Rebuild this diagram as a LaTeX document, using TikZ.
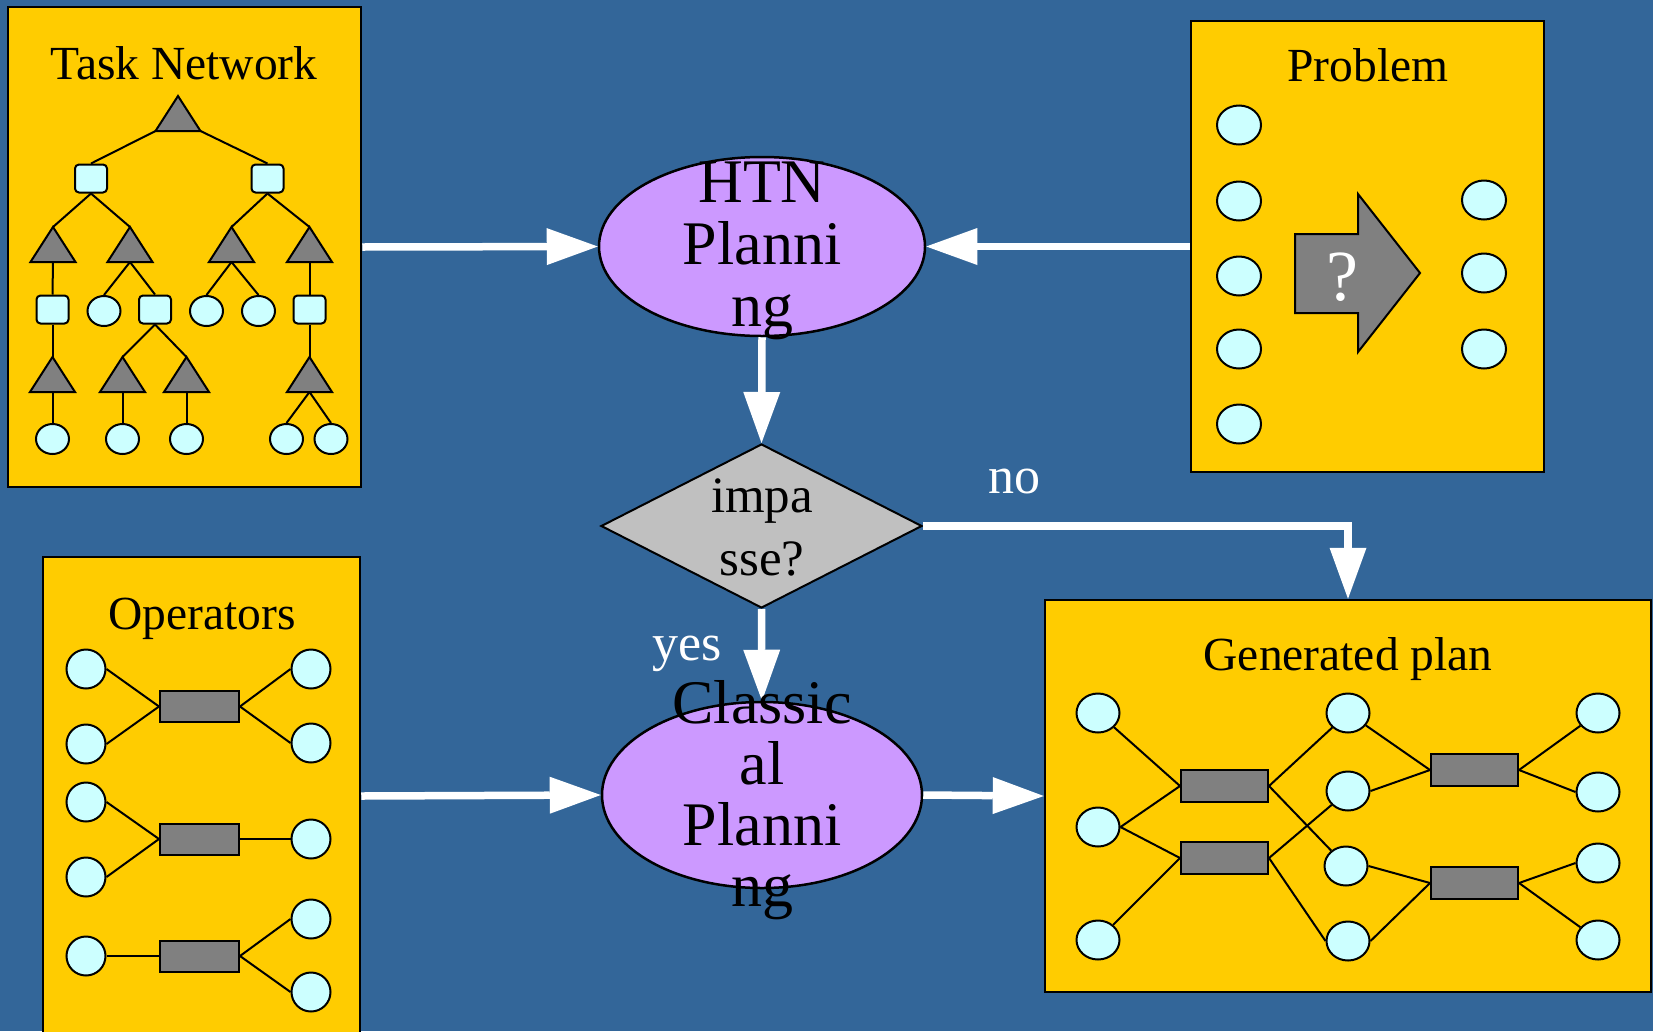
\documentclass[tikz,border=0pt]{standalone}
\usepackage{fontspec}
\setmainfont{Liberation Serif}
\usetikzlibrary{shapes.geometric,arrows.meta,calc}

\definecolor{bgblue}{HTML}{336699}
\definecolor{panelgold}{HTML}{FFCC00}
\definecolor{tokencyan}{HTML}{CCFFFF}
\definecolor{actgray}{HTML}{808080}
\definecolor{plannerlilac}{HTML}{CC99FF}
\definecolor{decidegray}{HTML}{C0C0C0}

% a task-network triangle: name, apex x, apex y (y grows downwards)
\newcommand\tasktri[3]{%
  \coordinate (#1-top) at (#2,#3);
  \coordinate (#1-bot) at (#2,#3+35);
  \coordinate (#1-l) at (#2-22.5,#3+35);
  \coordinate (#1-r) at (#2+22.5,#3+35);
  \filldraw[tritask] (#1-top) -- (#1-r) -- (#1-l) -- cycle;}

\begin{document}
\begin{tikzpicture}[x=1pt,y=-1pt,
  panelbox/.style={rectangle, draw=black, line width=2.5pt, fill=panelgold, inner sep=0pt},
  paneltitle/.style={anchor=base, inner sep=0pt, font=\fontsize{47.5}{57}\selectfont},
  link/.style={draw=black, line width=2pt},
  tritask/.style={fill=actgray, draw=black, line width=2pt, line join=miter},
  tasksq/.style={rectangle, rounded corners=4pt, draw=black, line width=2pt, fill=tokencyan,
                 minimum width=32pt, minimum height=28pt, inner sep=0pt},
  taskleaf/.style={ellipse, draw=black, line width=2pt, fill=tokencyan,
                   minimum width=33pt, minimum height=30pt, inner sep=0pt},
  probtok/.style={ellipse, draw=black, line width=2pt, fill=tokencyan,
                  minimum width=44pt, minimum height=39pt, inner sep=0pt},
  optok/.style={circle, draw=black, line width=2pt, fill=tokencyan,
                minimum size=39pt, inner sep=0pt},
  plantok/.style={ellipse, draw=black, line width=2pt, fill=tokencyan,
                  minimum width=43pt, minimum height=39pt, inner sep=0pt},
  opbar/.style={rectangle, draw=black, line width=2pt, fill=actgray,
                minimum width=79pt, minimum height=31pt, inner sep=0pt},
  planbar/.style={rectangle, draw=black, line width=2pt, fill=actgray,
                  minimum width=87pt, minimum height=32pt, inner sep=0pt},
  plannode/.style={ellipse, draw=black, line width=2.5pt, fill=plannerlilac, inner sep=0pt},
  decision/.style={diamond, draw=black, line width=2pt, fill=decidegray, inner sep=0pt,
                   minimum width=321pt, minimum height=164pt},
  bigtext/.style={align=center, inner sep=0pt, text=black},
  flowlabel/.style={anchor=base, inner sep=0pt, text=white, font=\fontsize{52}{52}\selectfont},
  flow/.style={draw=white, line width=7.5pt, line join=miter,
               -{Triangle[length=51pt, width=37pt, line width=0pt]}}
]
\useasboundingbox (0,0) rectangle (1653,1031);
\clip (0,0) rectangle (1653,1031);
\fill[bgblue] (0,0) rectangle (1653,1031);

% ---------- panels ----------
\node[panelbox, minimum width=353pt, minimum height=480pt] (tasknet) at (184.5,247) {};
\node[panelbox, minimum width=353pt, minimum height=451pt] (problem) at (1367.5,246.5) {};
\node[panelbox, minimum width=317pt, minimum height=478pt] (operators) at (201.5,796) {};
\node[panelbox, minimum width=606pt, minimum height=392pt] (plan) at (1348,796) {};

\node[paneltitle] (tasknet-title) at (184,79) {Task Network};
\node[paneltitle] (problem-title) at (1368,81) {Problem};
\node[paneltitle] (operators-title) at (202,629) {Operators};
\node[paneltitle] (plan-title) at (1348,670) {Generated plan};

% ---------- task network tree ----------
\node[tasksq] (s1) at (91,178.5) {};
\node[tasksq] (s2) at (267.5,178.5) {};
\node[tasksq] (sa) at (52.5,309.5) {};
\node[tasksq] (sb) at (155,309.5) {};
\node[tasksq] (sd) at (309.5,309.5) {};
\node[taskleaf] (cb) at (104,311) {};
\node[taskleaf] (cc1) at (206.5,311) {};
\node[taskleaf] (cc2) at (258.5,311) {};
\node[taskleaf] (la) at (52.5,439) {};
\node[taskleaf] (lb) at (122.5,439) {};
\node[taskleaf] (lc) at (186.5,439) {};
\node[taskleaf] (ld1) at (286.5,439) {};
\node[taskleaf] (ld2) at (331,439) {};

\tasktri{t0}{178}{96}
\tasktri{ta}{53}{227}
\tasktri{tb}{130}{227}
\tasktri{tc}{231.5}{227}
\tasktri{td}{309.5}{227}
\tasktri{ta2}{52.5}{357}
\tasktri{tb2}{122.5}{357}
\tasktri{tb3}{186.5}{357}
\tasktri{td2}{309.5}{357}

\draw[link] (t0-l) -- (s1.north);
\draw[link] (t0-r) -- (s2.north);
\draw[link] (s1.south) -- (ta-top);
\draw[link] (s1.south) -- (tb-top);
\draw[link] (s2.south) -- (tc-top);
\draw[link] (s2.south) -- (td-top);
\draw[link] (ta-bot) -- (sa.north);
\draw[link] (tb-bot) -- (cb.north);
\draw[link] (tb-bot) -- (sb.north);
\draw[link] (tc-bot) -- (cc1.north);
\draw[link] (tc-bot) -- (cc2.north);
\draw[link] (td-bot) -- (sd.north);
\draw[link] (sa.south) -- (ta2-top);
\draw[link] (sb.south) -- (tb2-top);
\draw[link] (sb.south) -- (tb3-top);
\draw[link] (sd.south) -- (td2-top);
\draw[link] (ta2-bot) -- (la.north);
\draw[link] (tb2-bot) -- (lb.north);
\draw[link] (tb3-bot) -- (lc.north);
\draw[link] (td2-bot) -- (ld1.north);
\draw[link] (td2-bot) -- (ld2.north);

% ---------- problem ----------
\foreach \y [count=\i] in {125,201,276,349,424}
  \node[probtok] (pin\i) at (1239,\y) {};
\foreach \y [count=\i] in {200,273,349}
  \node[probtok] (pout\i) at (1484,\y) {};
\filldraw[fill=actgray, draw=black, line width=2pt, line join=miter]
  (1295,234) -- (1358,234) -- (1358,194) -- (1420,273) -- (1358,352) -- (1358,313) -- (1295,313) -- cycle;
\node[anchor=base, inner sep=0pt, text=white, font=\fontsize{72}{72}\selectfont] (unknown) at (1342.5,300) {?};

% ---------- operators ----------
\node[optok] (o1a) at (86,669) {};
\node[optok] (o1b) at (86,744) {};
\node[optok] (o1c) at (311,669) {};
\node[optok] (o1d) at (311,743) {};
\node[opbar] (bar1) at (199.5,706.5) {};
\node[optok] (o2a) at (86,802) {};
\node[optok] (o2b) at (86,877) {};
\node[optok] (o2c) at (311,839) {};
\node[opbar] (bar2) at (199.5,839) {};
\node[optok] (o3a) at (86,956) {};
\node[optok] (o3c) at (311,919) {};
\node[optok] (o3d) at (311,992) {};
\node[opbar] (bar3) at (199.5,956) {};

\draw[link] (o1a.east) -- (bar1.west);
\draw[link] (o1b.east) -- (bar1.west);
\draw[link] (bar1.east) -- (o1c.west);
\draw[link] (bar1.east) -- (o1d.west);
\draw[link] (o2a.east) -- (bar2.west);
\draw[link] (o2b.east) -- (bar2.west);
\draw[link] (bar2.east) -- (o2c.west);
\draw[link] (o3a.east) -- (bar3.west);
\draw[link] (bar3.east) -- (o3c.west);
\draw[link] (bar3.east) -- (o3d.west);

% ---------- generated plan ----------
\node[plantok] (g1a) at (1098,713) {};
\node[plantok] (g1b) at (1098,827) {};
\node[plantok] (g1c) at (1098,940) {};
\node[planbar] (ga1) at (1224.5,786) {};
\node[planbar] (ga2) at (1224.5,858) {};
\node[plantok] (g2a) at (1348,713) {};
\node[plantok] (g2b) at (1348,791) {};
\node[plantok] (g2c) at (1346,866) {};
\node[plantok] (g2d) at (1348,941) {};
\node[planbar] (gb1) at (1474.5,770) {};
\node[planbar] (gb2) at (1474.5,883) {};
\node[plantok] (g3a) at (1598,713) {};
\node[plantok] (g3b) at (1598,792) {};
\node[plantok] (g3c) at (1598,863) {};
\node[plantok] (g3d) at (1598,940) {};

\draw[link] (g1a) -- (ga1.west);
\draw[link] (g1b.east) -- (ga1.west);
\draw[link] (g1b.east) -- (ga2.west);
\draw[link] (g1c) -- (ga2.west);
\draw[link] (ga1.east) -- (g2a);
\draw[link] (ga1.east) -- (g2c);
\draw[link] (ga2.east) -- (g2b);
\draw[link] (ga2.east) -- (g2d.west);
\draw[link] (g2a) -- (gb1.west);
\draw[link] (g2b.east) -- (gb1.west);
\draw[link] (g2c.east) -- (gb2.west);
\draw[link] (g2d.east) -- (gb2.west);
\draw[link] (gb1.east) -- (g3a);
\draw[link] (gb1.east) -- (g3b.west);
\draw[link] (gb2.east) -- (g3c.west);
\draw[link] (gb2.east) -- (g3d);

% ---------- planning flow ----------
\node[plannode, minimum width=326pt, minimum height=179pt] (htn) at (762,246.5) {};
\node[decision] (imp) at (761.5,526) {};
\node[plannode, minimum width=320pt, minimum height=186pt] (cls) at (762,795) {};

\draw[flow] (tasknet.east) -- (htn.west);
\draw[flow] (problem.west) -- (htn.east);
\draw[flow] (htn.south) -- (imp.north);
\draw[flow] (imp.south) -- (cls.north);
\draw[flow] (imp.east) -| (plan.north);
\draw[flow] (operators.east) -- (cls.west);
\draw[flow] (cls.east) -- (plan.west);

\node[flowlabel] (lbl-no) at (1014.5,493) {no};
\node[flowlabel] (lbl-yes) at (687.5,660) {yes};

\node[bigtext, font=\fontsize{62}{62}\selectfont] (htn-text) at (762,251) {HTN\\Planni\\ng};
\node[bigtext, font=\fontsize{51}{63}\selectfont] (imp-text) at (762,527.5) {impa\\sse?};
\node[bigtext, font=\fontsize{62}{61}\selectfont] (cls-text) at (762,800) {Classic\\al\\Planni\\ng};
\end{tikzpicture}
\end{document}
